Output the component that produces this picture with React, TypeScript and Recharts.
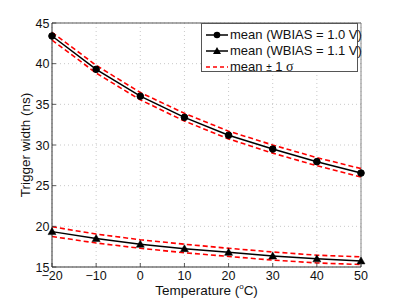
import React from "react";
import { LineChart, Line, XAxis, YAxis, CartesianGrid, ReferenceLine } from "recharts";

const temps = [-20, -10, 0, 10, 20, 30, 40, 50];
const mean10 = [43.4, 39.3, 36.0, 33.4, 31.2, 29.5, 27.95, 26.55];
const upper10 = [43.85, 39.8, 36.45, 33.9, 31.7, 30.0, 28.45, 27.1];
const lower10 = [42.9, 38.85, 35.55, 32.95, 30.75, 29.0, 27.45, 26.05];
const mean11 = [19.35, 18.5, 17.8, 17.25, 16.8, 16.35, 16.0, 15.75];
const upper11 = [19.95, 19.05, 18.35, 17.8, 17.3, 16.85, 16.45, 16.25];
const lower11 = [18.75, 17.95, 17.3, 16.75, 16.3, 15.85, 15.5, 15.3];
const xTicks = [-20, -10, 0, 10, 20, 30, 40, 50];
const yTicks = [15, 20, 25, 30, 35, 40, 45];
const legendLabels = ["mean (WBIAS = 1.0 V)", "mean (WBIAS = 1.1 V)"];

const data = temps.map((t, i) => ({
  t,
  m10: mean10[i],
  u10: upper10[i],
  l10: lower10[i],
  m11: mean11[i],
  u11: upper11[i],
  l11: lower11[i],
}));

const FONT = "'Liberation Sans', Arial, Helvetica, sans-serif";

const CircleDot = (props: any) => {
  const { cx, cy } = props;
  if (cx == null || cy == null) return null;
  return <circle cx={cx} cy={cy} r={3.3} fill="#000" stroke="#000" />;
};

const TriDot = (props: any) => {
  const { cx, cy } = props;
  if (cx == null || cy == null) return null;
  return <path d={`M${cx},${cy - 4} L${cx + 4},${cy + 3} L${cx - 4},${cy + 3} Z`} fill="#000" stroke="#000" strokeWidth={0.5} />;
};

const XTick = (props: any) => {
  const { x, y, payload } = props;
  const v = payload.value;
  const s = v < 0 ? "\u2212" + Math.abs(v) : String(v);
  return (
    <g>
      <line x1={x} y1={y} x2={x} y2={y - 4} stroke="#333" strokeWidth={0.8} />
      <text x={x} y={y + 12.5} textAnchor="middle" fontSize={12.5} fontFamily={FONT} fill="#111">
        {s}
      </text>
    </g>
  );
};

const YTick = (props: any) => {
  const { x, y, payload } = props;
  return (
    <g>
      <line x1={x} y1={y} x2={x + 4} y2={y} stroke="#333" strokeWidth={0.8} />
      <text x={x - 2.5} y={y + 4.5} textAnchor="end" fontSize={12.5} fontFamily={FONT} fill="#111">
        {payload.value}
      </text>
    </g>
  );
};

const XLabel = (props: any) => {
  const { viewBox } = props;
  const cx = viewBox.x + viewBox.width / 2;
  return (
    <text x={cx} y={294.5} textAnchor="middle" fontSize={13.5} fontFamily={FONT} fill="#111">
      Temperature (<tspan fontSize={8} dy={-6}>o</tspan>
      <tspan dy={6}>C)</tspan>
    </text>
  );
};

const YLabel = (props: any) => {
  const { viewBox } = props;
  const cy = viewBox.y + viewBox.height / 2;
  return (
    <text x={30} y={cy} transform={`rotate(-90 30 ${cy})`} textAnchor="middle" fontSize={13.5} fontFamily={FONT} fill="#111">
      Trigger width (ns)
    </text>
  );
};

const LegendBox = () => {
  const row = (sample: React.ReactNode, label: React.ReactNode) => (
    <div style={{ display: "flex", alignItems: "center", height: 16, whiteSpace: "nowrap" }}>
      <svg width={26} height={12} style={{ marginRight: 1, flex: "none" }}>{sample}</svg>
      <span>{label}</span>
    </div>
  );
  return (
    <div
      style={{
        position: "absolute",
        left: 201,
        top: 23,
        width: 157,
        height: 49,
        boxSizing: "border-box",
        border: "1px solid #555",
        background: "#fff",
        padding: "3px 0 0 1px",
        fontFamily: FONT,
        fontSize: 13,
        color: "#111",
        lineHeight: "16px",
      }}
    >
      {row(
        <g>
          <line x1={3} y1={6} x2={25} y2={6} stroke="#000" strokeWidth={1.5} />
          <circle cx={14} cy={6} r={3.3} fill="#000" />
        </g>,
        legendLabels[0]
      )}
      {row(
        <g>
          <line x1={3} y1={6} x2={25} y2={6} stroke="#000" strokeWidth={1.5} />
          <path d="M14,2 L18,9 L10,9 Z" fill="#000" />
        </g>,
        legendLabels[1]
      )}
      {row(
        <line x1={3} y1={6} x2={25} y2={6} stroke="#f00" strokeWidth={1.5} strokeDasharray="4 3" />,
        <span>
          mean <span style={{ fontSize: 10 }}>±</span> 1{" "}
          <span style={{ fontFamily: "'Liberation Serif', 'DejaVu Serif', serif", fontSize: 14 }}>σ</span>
        </span>
      )}
    </div>
  );
};

export default function App() {
  return (
    <div style={{ position: "absolute", left: 0, top: 0, width: 399, height: 300, background: "#fff" }}>
      <LineChart width={399} height={300} data={data} margin={{ top: 23, right: 38, left: 0, bottom: 0 }}>
        <CartesianGrid stroke="#bbb" strokeDasharray="1 3" strokeWidth={0.8} />
        <XAxis
          dataKey="t"
          type="number"
          domain={[-20, 50]}
          ticks={xTicks}
          interval={0}
          height={33}
          tickSize={0}
          tickMargin={0}
          tick={<XTick />}
          axisLine={{ stroke: "#333", strokeWidth: 1 }}
          label={<XLabel />}
        />
        <YAxis
          type="number"
          domain={[15, 45]}
          ticks={yTicks}
          interval={0}
          width={52}
          tickSize={0}
          tickMargin={0}
          tick={<YTick />}
          axisLine={{ stroke: "#333", strokeWidth: 1 }}
          label={<YLabel />}
        />
        <ReferenceLine y={45} stroke="#555" strokeWidth={1} />
        <ReferenceLine x={50} stroke="#888" strokeWidth={1} />
        <Line dataKey="u10" stroke="#f00" strokeWidth={1.6} strokeDasharray="5 3" dot={false} isAnimationActive={false} legendType="none" />
        <Line dataKey="l10" stroke="#f00" strokeWidth={1.6} strokeDasharray="5 3" dot={false} isAnimationActive={false} legendType="none" />
        <Line dataKey="u11" stroke="#f00" strokeWidth={1.6} strokeDasharray="5 3" dot={false} isAnimationActive={false} legendType="none" />
        <Line dataKey="l11" stroke="#f00" strokeWidth={1.6} strokeDasharray="5 3" dot={false} isAnimationActive={false} legendType="none" />
        <Line dataKey="m10" stroke="#000" strokeWidth={1.5} dot={<CircleDot />} isAnimationActive={false} />
        <Line dataKey="m11" stroke="#000" strokeWidth={1.5} dot={<TriDot />} isAnimationActive={false} />
      </LineChart>
      <LegendBox />
    </div>
  );
}
